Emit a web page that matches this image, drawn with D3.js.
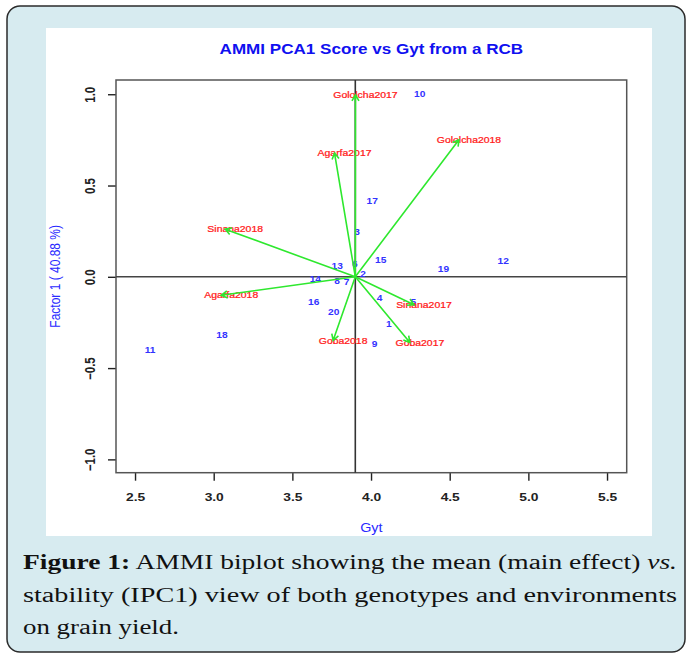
<!DOCTYPE html>
<html>
<head>
<meta charset="utf-8">
<script src="https://cdn.jsdelivr.net/npm/d3@7"></script>
<style>
  body { margin: 0; background: #fff; }
  svg { display: block; }
</style>
</head>
<body>
<svg id="chart"></svg>
<script>
// Genotypes: label, mean grain yield (Gyt) and PC1 score
const genoIds   = ['1','2','3','4','5','6','7','8','9','10','11','12','13','14','15','16','17','18','19','20'];
const genoYield = [4.113, 3.950, 3.912, 4.054, 4.269, 3.897, 3.844, 3.785, 4.022, 4.309,
                   2.596, 4.840, 3.785, 3.646, 4.061, 3.636, 4.008, 3.052, 4.460, 3.763];
const genoPC1   = [-0.258, 0.015, 0.245, -0.117, -0.141, 0.066, -0.029, -0.022, -0.367, 1.001,
                   -0.404, 0.084, 0.056, -0.011, 0.089, -0.141, 0.416, -0.318, 0.040, -0.196];

// Environments: arrow tips
const envNames = ['Gololcha2017', 'Gololcha2018', 'Agarfa2017', 'Sinana2018', 'Agarfa2018', 'Goba2018', 'Sinana2017', 'Goba2017'];
const envYield = [3.901, 4.559, 3.768, 3.073, 3.048, 3.759, 4.273, 4.247];
const envPC1   = [0.997, 0.751, 0.678, 0.261, -0.101, -0.349, -0.153, -0.360];

const grandMean = 3.90;

// Axis ticks
const xTicks = [2.5, 3.0, 3.5, 4.0, 4.5, 5.0, 5.5];
const yTicks = [-1.0, -0.5, 0.0, 0.5, 1.0];

const W = 686, H = 653;
const SX = 1.2; // the original figure is stretched horizontally
const FONT = "'Liberation Sans', Arial, Helvetica, sans-serif";

const svg = d3.select('#chart').attr('width', W).attr('height', H);

// Page background box + white figure panel
svg.append('rect')
  .attr('x', 7).attr('y', 6).attr('width', 678).attr('height', 646).attr('rx', 13)
  .attr('fill', '#d7ebf0').attr('stroke', '#2b2b2b').attr('stroke-width', 1.5);
svg.append('rect')
  .attr('x', 46).attr('y', 28).attr('width', 606).attr('height', 508)
  .attr('fill', '#fff');

const plot = { left: 116, right: 626.7, top: 80, bottom: 472.7 };
const x = d3.scaleLinear().domain([2.379, 5.625]).range([plot.left, plot.right]);
const y = d3.scaleLinear().domain([-1.073, 1.078]).range([plot.bottom, plot.top]);

// Title
svg.append('text')
  .attr('transform', `translate(${(plot.left + plot.right) / 2},54) scale(1.22,1)`)
  .attr('text-anchor', 'middle')
  .attr('font-family', FONT).attr('font-size', 14).attr('font-weight', 'bold')
  .attr('fill', '#1010f0')
  .text('AMMI PCA1 Score vs Gyt from a RCB');

// Axes
const xAxis = svg.append('g')
  .attr('transform', `translate(0,${plot.bottom})`)
  .call(d3.axisBottom(x).tickValues(xTicks).tickSize(8).tickPadding(0));
xAxis.select('.domain').remove();
xAxis.selectAll('line').attr('stroke', '#222').attr('stroke-width', 1.4);
xAxis.selectAll('text')
  .attr('y', 0).attr('dy', null)
  .attr('transform', `translate(0,28) scale(${SX},1)`)
  .attr('font-family', FONT).attr('font-size', 11.5).attr('font-weight', 'bold').attr('fill', '#222');

const yAxis = svg.append('g')
  .attr('transform', `translate(${plot.left},0)`)
  .call(d3.axisLeft(y).tickValues(yTicks).tickSize(8));
yAxis.select('.domain').remove();
yAxis.selectAll('line').attr('stroke', '#222').attr('stroke-width', 1.4);
yAxis.selectAll('text')
  .attr('x', 0).attr('dy', null)
  .attr('text-anchor', 'middle').attr('dominant-baseline', 'central')
  .attr('transform', `translate(-25,0) scale(${SX},1) rotate(-90)`)
  .attr('font-family', FONT).attr('font-size', 11.5).attr('font-weight', 'bold').attr('fill', '#222');
svg.selectAll('.tick text').text(d => d3.format('.1f')(d).replace('-', '\u2212'));

// Axis labels
svg.append('text')
  .attr('transform', `translate(${(plot.left + plot.right) / 2},532) scale(${SX},1)`)
  .attr('text-anchor', 'middle')
  .attr('font-family', FONT).attr('font-size', 12).attr('fill', '#2a2aff')
  .text('Gyt');
svg.append('text')
  .attr('transform', `translate(55,${(plot.top + plot.bottom) / 2}) scale(${SX},1) rotate(-90)`)
  .attr('text-anchor', 'middle').attr('dominant-baseline', 'central')
  .attr('font-family', FONT).attr('font-size', 12).attr('fill', '#2a2aff')
  .text('Factor 1 ( 40.88 %)');

// Frame and reference lines
svg.append('rect')
  .attr('x', plot.left).attr('y', plot.top)
  .attr('width', plot.right - plot.left).attr('height', plot.bottom - plot.top)
  .attr('fill', 'none').attr('stroke', '#555').attr('stroke-width', 1.5);
svg.append('line')
  .attr('x1', plot.left).attr('x2', plot.right).attr('y1', y(0)).attr('y2', y(0))
  .attr('stroke', '#444').attr('stroke-width', 1.6);
svg.append('line')
  .attr('x1', x(grandMean)).attr('x2', x(grandMean)).attr('y1', plot.top).attr('y2', plot.bottom)
  .attr('stroke', '#333').attr('stroke-width', 1.6);

// Genotype labels
svg.append('g').selectAll('text')
  .data(genoIds)
  .join('text')
  .attr('transform', (d, i) => `translate(${x(genoYield[i])},${y(genoPC1[i])}) scale(${SX},1)`)
  .attr('text-anchor', 'middle').attr('dominant-baseline', 'central')
  .attr('font-family', FONT).attr('font-size', 8.5).attr('font-weight', 'bold').attr('fill', '#3333ff')
  .text(d => d);

// Environment labels (sit a little right of the arrow tips)
svg.append('g').selectAll('text')
  .data(envNames)
  .join('text')
  .attr('transform', (d, i) => `translate(${x(envYield[i]) + 10},${y(envPC1[i])}) scale(${SX},1)`)
  .attr('text-anchor', 'middle').attr('dominant-baseline', 'central')
  .attr('font-family', FONT).attr('font-size', 8.7).attr('fill', '#ff1a1a')
  .attr('stroke', '#ff1a1a').attr('stroke-width', 0.25)
  .text(d => d);

// Environment vectors from (grand mean, 0)
function arrowPath(i) {
  const x1 = x(grandMean), y1 = y(0), x2 = x(envYield[i]), y2 = y(envPC1[i]);
  const a = Math.atan2(y2 - y1, x2 - x1), L = 7, t = Math.PI / 6;
  return `M${x1},${y1}L${x2},${y2}` +
    `M${x2 - L * Math.cos(a - t)},${y2 - L * Math.sin(a - t)}L${x2},${y2}` +
    `L${x2 - L * Math.cos(a + t)},${y2 - L * Math.sin(a + t)}`;
}
svg.append('g').selectAll('path')
  .data(envNames)
  .join('path')
  .attr('d', (d, i) => arrowPath(i))
  .attr('fill', 'none').attr('stroke', '#2ee82e').attr('stroke-width', 1.6);

// Caption
const CAP_FONT = "'Liberation Serif', 'Times New Roman', serif";
const cap = svg.append('g').attr('font-family', CAP_FONT).attr('font-size', 20).attr('fill', '#111');
const l1 = cap.append('text').attr('x', 23).attr('y', 569)
  .attr('textLength', 654).attr('lengthAdjust', 'spacingAndGlyphs');
l1.append('tspan').attr('font-weight', 'bold').text('Figure 1:');
l1.append('tspan').text(' AMMI biplot showing the mean (main effect) ');
l1.append('tspan').attr('font-style', 'italic').text('vs.');
cap.append('text').attr('x', 23).attr('y', 601.5)
  .attr('textLength', 654).attr('lengthAdjust', 'spacingAndGlyphs')
  .text('stability (IPC1) view of both genotypes and environments');
cap.append('text').attr('x', 23).attr('y', 634)
  .attr('textLength', 156).attr('lengthAdjust', 'spacingAndGlyphs')
  .text('on grain yield.');
</script>
</body>
</html>
